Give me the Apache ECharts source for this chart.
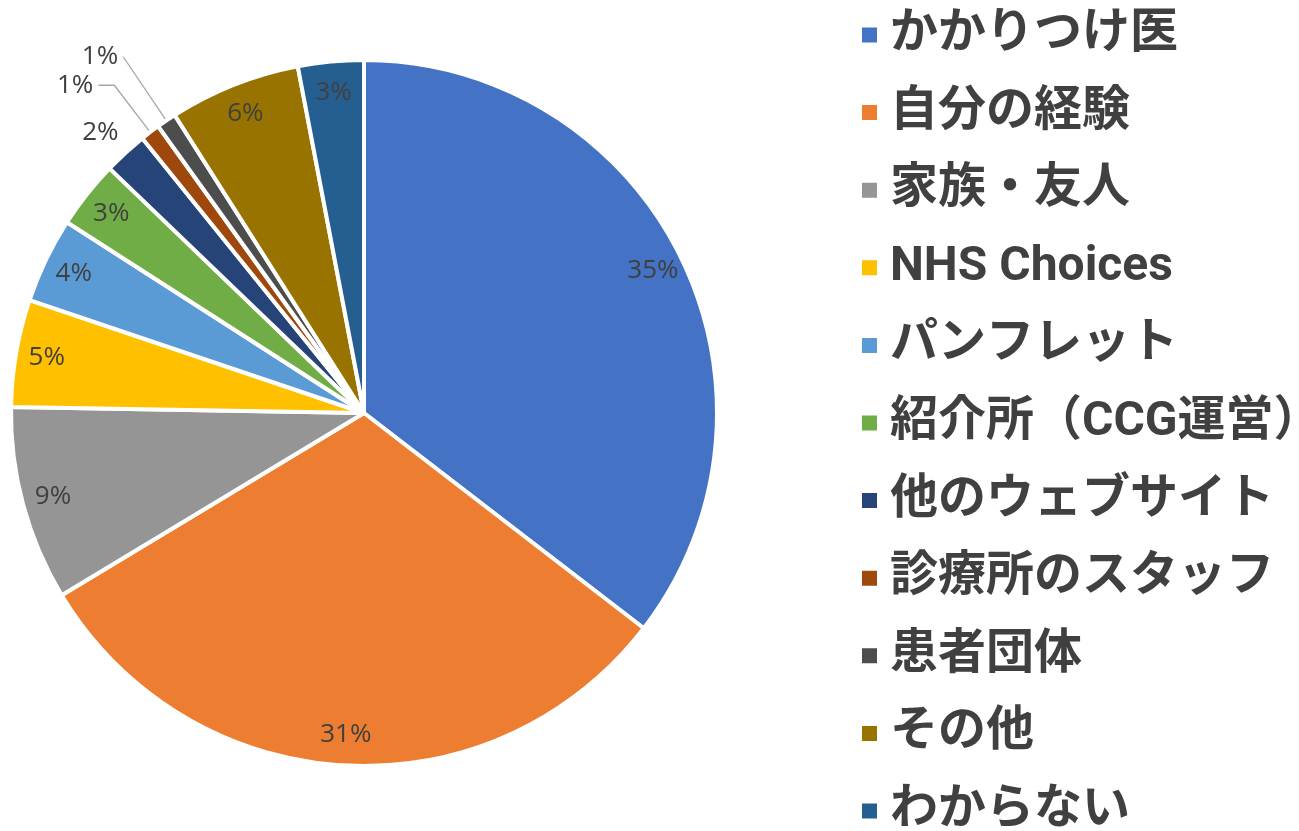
<!DOCTYPE html>
<html>
<head>
<meta charset="utf-8">
<script src="https://cdn.jsdelivr.net/npm/echarts@6/dist/echarts.min.js"></script>
<style>
html,body{margin:0;padding:0;background:#fff;}
#chart{width:1299px;height:831px;}
</style>
</head>
<body>
<div id="chart"></div>
<script>
const categories = ['かかりつけ医','自分の経験','家族・友人','NHS Choices','パンフレット','紹介所（CCG運営）','他のウェブサイト','診療所のスタッフ','患者団体','その他','わからない'];
const values = [35.4, 30.9, 8.9, 4.9, 3.9, 3.1, 2.0, 0.9, 0.9, 6.0, 3.0];
const colors = ['#4472C4','#ED7D31','#959595','#FFC000','#5B9BD5','#70AD47','#264478','#9E480E','#4D4D4D','#997300','#255E91'];

const chart = echarts.init(document.getElementById('chart'), null, {renderer:'canvas'});

const mainData = categories.map((c,i)=>({name:c, value:values[i], itemStyle:{color:colors[i]}}));
const lineStyles = {7:{length:59, length2:16}, 8:{length:77, length2:0}};
const labelData = categories.map((c,i)=>{
  const item = {name:c, value:values[i]};
  if (values[i] < 2.5) {
    const ls = lineStyles[i];
    item.label = ls ? {position:'outside'} : {position:'outside', distanceToLabelLine:-12};
    item.labelLine = ls ? {show:true, length:ls.length, length2:ls.length2} : {show:false, length:28, length2:0};
  }
  return item;
});

const labelFont = {fontFamily:'Open Sans', fontSize:26, color:'#404040'};

chart.setOption({
  animation:false,
  backgroundColor:'#ffffff',
  legend:{
    orient:'vertical',
    left:860,
    top:11,
    height:900,
    padding:0,
    itemWidth:17,
    itemHeight:17,
    itemGap:29.6,
    icon:'rect',
    selectedMode:false,
    data:categories,
    textStyle:{fontFamily:'Roboto, "Noto Sans CJK JP"', fontSize:48, fontWeight:'bold', color:'#404040', lineHeight:48, padding:[0,0,0,7]}
  },
  series:[
    {
      type:'pie',
      center:[364,413],
      radius:[0,353],
      startAngle:90,
      clockwise:true,
      silent:true,
      label:{show:false},
      labelLine:{show:false},
      itemStyle:{borderColor:'#ffffff', borderWidth:4},
      data:mainData
    },
    {
      type:'pie',
      center:[364,413],
      radius:[285,353],
      startAngle:90,
      clockwise:true,
      silent:true,
      avoidLabelOverlap:false,
      labelLayout:{hideOverlap:false},
      itemStyle:{color:'rgba(0,0,0,0)', borderWidth:0},
      label:Object.assign({show:true, position:'inside', formatter:(p)=>Math.round(p.value)+'%'}, labelFont),
      labelLine:{lineStyle:{color:'#A6A6A6', width:1.3}},
      data:labelData
    }
  ]
});
</script>
</body>
</html>
